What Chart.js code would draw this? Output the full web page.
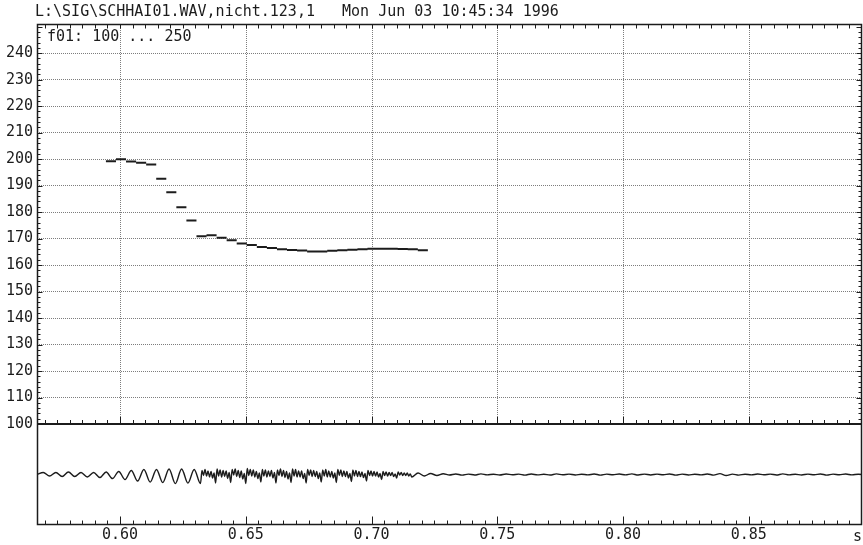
<!DOCTYPE html>
<html>
<head>
<meta charset="utf-8">
<script src="https://cdn.jsdelivr.net/npm/chart.js@4.4.1/dist/chart.umd.min.js"></script>
<style>
  html, body { margin: 0; padding: 0; background: #fff; }
  canvas { display: block; }
</style>
</head>
<body>
<canvas id="c" width="863" height="545"></canvas>
<script>
// ---- header / annotation text ----
const headerText = 'L:\\SIG\\SCHHAI01.WAV,nicht.123,1   Mon Jun 03 10:45:34 1996';
const panelLabel = 'f01: 100 ... 250';
const timeUnit = 's';

// ---- axes ----
const timeRange = [0.567, 0.895];
const f0Range = [100, 251];
const xTickValues = [0.60, 0.65, 0.70, 0.75, 0.80, 0.85];
const xTickLabels = ['0.60', '0.65', '0.70', '0.75', '0.80', '0.85'];
const yTickValues = [100, 110, 120, 130, 140, 150, 160, 170, 180, 190, 200, 210, 220, 230, 240];

// ---- fundamental frequency track (frame start time in s, f0 in Hz) ----
const f0Hop = 0.004;
const f0Time = [0.5944, 0.5984, 0.6024, 0.6064, 0.6104, 0.6144, 0.6184, 0.6224,
                0.6264, 0.6304, 0.6344, 0.6384, 0.6424, 0.6464, 0.6504, 0.6544,
                0.6584, 0.6624, 0.6664, 0.6704, 0.6744, 0.6784, 0.6824, 0.6864,
                0.6904, 0.6944, 0.6984, 0.7024, 0.7064, 0.7104, 0.7144, 0.7184];
const f0Hz = [199.2, 199.9, 199.1, 198.6, 198.0, 192.6, 187.5, 181.8,
              176.8, 170.9, 171.3, 170.3, 169.4, 168.1, 167.6, 166.8,
              166.4, 166.0, 165.7, 165.5, 165.1, 165.1, 165.4, 165.6,
              165.8, 166.0, 166.2, 166.2, 166.2, 166.1, 166.0, 165.6];

// ---- waveform (three stretches, each with its own sample step) ----
const onsetStart = 0.567, onsetStep = 0.0025;
const onsetAmp = [0.00, 0.04, -0.03, 0.04, -0.04, 0.05, -0.04, 0.04, -0.05, 0.04,
                  -0.06, 0.05, -0.08, 0.06, -0.10, 0.08, -0.13, 0.10, -0.15, 0.10,
                  -0.16, 0.11, -0.18, 0.11, -0.17, 0.10];

const vowelStart = 0.632, vowelStep = 0.0006;
const vowelAmp = [
  -0.18, 0.08, -0.02, 0.10, -0.03, 0.07, -0.05, 0.06, -0.07, 0.03,
  -0.17, 0.11, -0.03, 0.09, -0.05, 0.08, -0.04, 0.07, -0.08, 0.04,
  -0.16, 0.10, -0.01, 0.11, -0.04, 0.08, -0.06, 0.07, -0.09, 0.02,
  -0.18, 0.12, -0.02, 0.10, -0.03, 0.09, -0.05, 0.06, -0.08, 0.03,
  -0.15, 0.10, -0.03, 0.09, -0.05, 0.07, -0.04, 0.08, -0.07, 0.04,
  -0.17, 0.09, -0.02, 0.11, -0.04, 0.08, -0.06, 0.06, -0.09, 0.03,
  -0.16, 0.11, -0.03, 0.10, -0.05, 0.07, -0.05, 0.07, -0.08, 0.02,
  -0.17, 0.10, -0.02, 0.09, -0.04, 0.08, -0.04, 0.06, -0.08, 0.03,
  -0.15, 0.09, -0.03, 0.10, -0.05, 0.07, -0.05, 0.06, -0.07, 0.03,
  -0.16, 0.10, -0.02, 0.09, -0.04, 0.07, -0.04, 0.06, -0.07, 0.02,
  -0.14, 0.09, -0.03, 0.08, -0.04, 0.06, -0.04, 0.05, -0.06, 0.02,
  -0.13, 0.08, -0.02, 0.07, -0.03, 0.06, -0.03, 0.05, -0.05, 0.02,
  -0.10, 0.06, -0.02, 0.05, -0.03, 0.04, -0.02, 0.04, -0.04, 0.01,
  -0.07, 0.05, -0.01, 0.04, -0.02, 0.03, -0.02, 0.03, -0.03, 0.01
];

const tailStart = 0.716, tailStep = 0.0025;
const tailAmp = [
  -0.05, 0.03, -0.03, 0.02, -0.02, 0.015, -0.01, 0.01, -0.012, 0.008,
  -0.01, 0.012, -0.008, 0.006, -0.01, 0.01, -0.006, 0.008, -0.012, 0.01,
  -0.008, 0.005, -0.01, 0.012, -0.006, 0.008, -0.01, 0.006, -0.008, 0.01,
  -0.012, 0.008, -0.006, 0.01, -0.008, 0.012, -0.01, 0.008, -0.01, 0.008,
  -0.006, 0.01, -0.012, 0.008, -0.01, 0.006, -0.008, 0.01, -0.012, 0.018,
  -0.02, 0.008, -0.012, 0.006, -0.008, 0.01, -0.006, 0.008, -0.01, 0.012,
  -0.008, 0.006, -0.01, 0.008, -0.006, 0.01, -0.012, 0.008, -0.006, 0.01,
  -0.008, 0.006, -0.004
];

// ---- build chart data ----
// each f0 frame is a short horizontal stroke, broken from its neighbours
const pitchPoints = [];
f0Time.forEach((t, i) => {
  pitchPoints.push({ x: t, y: f0Hz[i] }, { x: t + f0Hop, y: f0Hz[i] }, { x: t + f0Hop, y: null });
});

function samples(start, step, amps) {
  return amps.map((v, i) => ({ x: start + i * step, y: v }));
}
const wavePoints = [
  ...samples(onsetStart, onsetStep, onsetAmp),
  ...samples(vowelStart, vowelStep, vowelAmp),
  ...samples(tailStart, tailStep, tailAmp)
];

const FONT = '"DejaVu Sans Mono", "Liberation Mono", monospace';
const INK = '#1c1c1c';
const GRID = '#7d7d7d';

// frame, inner tick marks, vertical grid and the text lines
const framePlugin = {
  id: 'frame',
  beforeDatasetsDraw(chart) {
    const { ctx, scales: { x, y } } = chart;
    ctx.save();
    ctx.strokeStyle = GRID;
    ctx.lineWidth = 1;
    ctx.setLineDash([1, 1]);
    xTickValues.forEach(v => {
      const px = Math.round(x.getPixelForValue(v)) + 0.5;
      ctx.beginPath();
      ctx.moveTo(px, y.top);
      ctx.lineTo(px, y.bottom);
      ctx.stroke();
    });
    ctx.restore();
  },
  afterDatasetsDraw(chart) {
    const { ctx, chartArea: a, scales: { x, y } } = chart;
    ctx.save();
    ctx.strokeStyle = INK;
    ctx.lineWidth = 1;
    ctx.setLineDash([]);
    const L = Math.round(a.left) + 0.5, R = Math.round(a.right) - 0.5;
    const T = Math.round(a.top) + 0.5, B = Math.round(a.bottom) - 0.5;
    const S = Math.round(y.bottom);

    // outer frame
    ctx.lineWidth = 1.5;
    ctx.strokeRect(L, T, R - L, B - T);
    // separator between panels (f0 = 100)
    ctx.lineWidth = 2;
    ctx.beginPath(); ctx.moveTo(L, S); ctx.lineTo(R, S); ctx.stroke();

    ctx.lineWidth = 1;
    // time ticks every 5 ms
    for (let ms = 570; ms <= 890; ms += 5) {
      const px = Math.round(x.getPixelForValue(ms / 1000)) + 0.5;
      const major = ms % 50 === 0;
      ctx.beginPath();
      ctx.moveTo(px, T); ctx.lineTo(px, T + 4);
      ctx.moveTo(px, S); ctx.lineTo(px, S - (major ? 7 : 4));
      ctx.moveTo(px, B); ctx.lineTo(px, B - (major ? 8 : 4));
      ctx.stroke();
    }
    // f0 ticks every 2 Hz on both sides
    for (let f = 100; f <= 250; f += 2) {
      const py = Math.round(y.getPixelForValue(f)) + 0.5;
      const len = f % 10 === 0 ? 5 : 3;
      ctx.beginPath();
      ctx.moveTo(L, py); ctx.lineTo(L + len, py);
      ctx.moveTo(R, py); ctx.lineTo(R - len, py);
      ctx.stroke();
    }

    // text
    ctx.fillStyle = INK;
    ctx.font = '15px ' + FONT;
    ctx.textBaseline = 'alphabetic';
    ctx.textAlign = 'left';
    ctx.fillText(headerText, 35, 16);
    ctx.fillText(panelLabel, 47, 41);
    ctx.textAlign = 'right';
    ctx.fillText(timeUnit, 862, 541);
    ctx.restore();
  }
};

new Chart(document.getElementById('c'), {
  type: 'line',
  data: {
    datasets: [
      {
        data: pitchPoints,
        yAxisID: 'y',
        borderColor: INK,
        borderWidth: 2,
        pointRadius: 0,
        spanGaps: false,
        tension: 0
      },
      {
        data: wavePoints,
        yAxisID: 'wave',
        borderColor: INK,
        borderWidth: 1.4,
        pointRadius: 0,
        cubicInterpolationMode: 'monotone'
      }
    ]
  },
  options: {
    responsive: false,
    animation: false,
    devicePixelRatio: 1,
    layout: { padding: { top: 24, right: 1, left: 0, bottom: 0 } },
    plugins: { legend: { display: false }, tooltip: { enabled: false }, title: { display: false } },
    scales: {
      x: {
        type: 'linear',
        position: 'bottom',
        min: timeRange[0],
        max: timeRange[1],
        grid: { display: false, drawTicks: false },
        border: { display: false },
        afterBuildTicks: s => { s.ticks = xTickValues.map(v => ({ value: v })); },
        afterFit: s => { s.height = 20; },
        ticks: {
          autoSkip: false,
          maxRotation: 0,
          padding: 3,
          color: INK,
          font: { family: FONT, size: 15, lineHeight: 1 },
          callback: (v, i) => xTickLabels[i]
        }
      },
      y: {
        type: 'linear',
        position: 'left',
        stack: 'panels',
        stackWeight: 400,
        weight: 1,
        min: f0Range[0],
        max: f0Range[1],
        afterBuildTicks: s => { s.ticks = yTickValues.map(v => ({ value: v })); },
        afterFit: s => { s.width = 37; },
        grid: { color: GRID, lineWidth: 1, drawTicks: false },
        border: { display: false, dash: [1, 1] },
        ticks: {
          autoSkip: false,
          padding: 4,
          color: INK,
          font: { family: FONT, size: 15 },
          callback: v => String(v)
        }
      },
      wave: {
        type: 'linear',
        position: 'left',
        stack: 'panels',
        stackWeight: 101,
        weight: 0,
        min: -1,
        max: 1,
        afterFit: s => { s.width = 37; },
        grid: { display: false, drawTicks: false },
        border: { display: false },
        ticks: { display: false }
      }
    }
  },
  plugins: [framePlugin]
});
</script>
</body>
</html>
